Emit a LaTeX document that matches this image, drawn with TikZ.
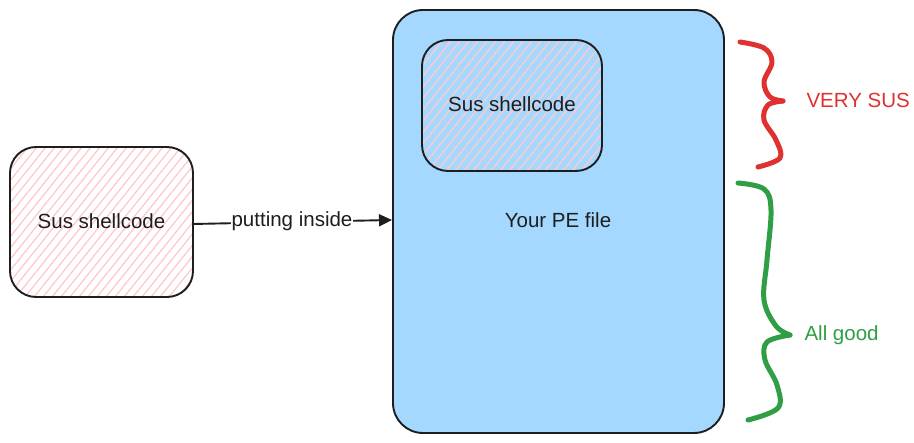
\documentclass[tikz,border=0pt]{standalone}
\usepackage{fontspec}
\setmainfont{Liberation Sans}
\usetikzlibrary{arrows.meta}
\definecolor{ink}{HTML}{1E1E1E}
\definecolor{peblue}{HTML}{A5D8FF}
\definecolor{hatch}{HTML}{FFC9C9}
\definecolor{susred}{HTML}{E03131}
\definecolor{okgreen}{HTML}{2F9E44}
\tikzset{
  boxline/.style={draw=ink, line width=1.9pt},
  lbl/.style={font=\fontsize{20.5}{24}\selectfont, text=ink},
  hatchline/.style={draw=hatch, line width=1.3pt},
  brace/.style={line width=5pt, line cap=round, line join=round},
}
\newcommand{\hatchfill}[5]{% x1 y1 x2 y2 radius
  \begin{scope}
    \clip[rounded corners=#5] (#1,#2) rectangle (#3,#4);
    \foreach \k in {-300,-291,...,400} {
      \draw[hatchline] (#1+\k,#4) -- ++(0.8*#4-0.8*#2+0.0,#2-#4);
    }
  \end{scope}
}
\begin{document}
\begin{tikzpicture}[x=1pt,y=-1pt]
\useasboundingbox (0,0) rectangle (914,443);
\fill[white] (0,0) rectangle (914,443);

% left box
\hatchfill{10}{147}{193}{297}{26pt}
\draw[boxline, rounded corners=26pt] (10,147) rectangle (193,297);
\node[lbl] (leftsus) at (101.5,221) {Sus shellcode};
\coordinate (leftR) at (193,224);

% big PE box
\fill[peblue, rounded corners=30pt] (393,10) rectangle (724,433);
\draw[boxline, rounded corners=30pt] (393,10) rectangle (724,433);
\node[lbl] (pe) at (558,220) {Your PE file};
\coordinate (peL) at (392,220);

% inner box
\hatchfill{422}{40}{602}{171}{26pt}
\draw[boxline, rounded corners=26pt] (422,40) rectangle (602,171);
\node[lbl] (innersus) at (512,104) {Sus shellcode};

% arrow
\draw[draw=ink, line width=1.9pt, -{Triangle[length=13pt,width=12pt]}] (leftR) -- (peL);
\node[lbl, fill=white, inner sep=1pt] (put) at (292,221) {putting inside};

% red brace
\draw[brace, susred] plot[smooth, tension=0.6] coordinates {(740,42) (764,48) (772,62) (764,82) (770,97) (783,101)};
\draw[brace, susred] plot[smooth, tension=0.6] coordinates {(783,101) (768,105) (764,120) (776,140) (780,158) (758,167)};
\node[lbl, text=susred, anchor=west] (verysus) at (803,100) {VERY SUS};

% green brace
\draw[brace, okgreen] plot[smooth, tension=0.6] coordinates {(738,183) (764,189) (771,210) (767,260) (764,300) (776,326) (790,335)};
\draw[brace, okgreen] plot[smooth, tension=0.6] coordinates {(790,335) (767,342) (765,360) (777,385) (778,408) (748,420)};
\node[lbl, text=okgreen, anchor=west] (allgood) at (801,335) {All good};
\end{tikzpicture}
\end{document}
